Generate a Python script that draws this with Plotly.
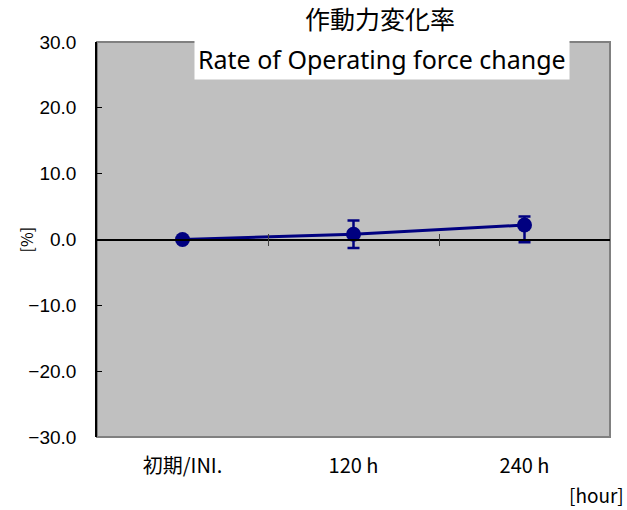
import plotly.graph_objects as go

categories = ["初期/INI.", "120 h", "240 h"]
rate = [0.0, 0.8, 2.2]
err_plus = [0.0, 2.1, 1.3]
err_minus = [0.0, 2.1, 2.6]
y_ticks = [-30, -20, -10, 0, 10, 20, 30]

navy = "#000080"
jp = "Noto Sans CJK JP"
latin = "Liberation Sans"

fig = go.Figure()

fig.add_trace(go.Scatter(
    x=[0, 1, 2], y=rate, mode="lines+markers",
    line=dict(color=navy, width=3),
    marker=dict(color=navy, size=15),
    error_y=dict(type="data", symmetric=False, array=err_plus, arrayminus=err_minus,
                 color=navy, thickness=2.5, width=6),
    showlegend=False,
))

fig.update_layout(
    width=627, height=510,
    margin=dict(l=97, r=17, t=42, b=73),
    paper_bgcolor="white",
    plot_bgcolor="#C0C0C0",
    font=dict(family=latin, color="black", size=19),
    xaxis=dict(
        range=[-0.5, 2.5], tickvals=[0, 1, 2], ticktext=categories,
        showgrid=False, zeroline=False, showline=False, ticks="",
        tickfont=dict(family=jp, size=20), ticklabelstandoff=15,
    ),
    xaxis2=dict(
        overlaying="x", anchor="free", position=0.5, range=[-0.5, 2.5],
        tickvals=[0.5, 1.5], ticks="outside", ticklen=6, tickwidth=1, tickcolor="#404040",
        showticklabels=False, showgrid=False, zeroline=False,
        showline=True, linecolor="black", linewidth=1.5,
    ),
    xaxis3=dict(
        overlaying="x", anchor="free", position=0.5, range=[-0.5, 2.5],
        tickvals=[0.5, 1.5], ticks="inside", ticklen=6, tickwidth=1, tickcolor="#404040",
        showticklabels=False, showgrid=False, zeroline=False, showline=False,
    ),
    yaxis=dict(
        range=[-30, 30], tickvals=y_ticks, tickformat=".1f",
        showgrid=False, zeroline=False,
        showline=True, linecolor="black", linewidth=1.5,
        ticks="inside", ticklen=5, tickcolor="black", ticklabelstandoff=15,
        tickfont=dict(family=latin, size=19),
    ),
    shapes=[dict(
        type="rect", xref="paper", yref="paper", x0=0, x1=1, y0=0, y1=1,
        line=dict(color="#808080", width=2), layer="below",
    )],
    annotations=[
        dict(text="作動力変化率", xref="paper", yref="paper", x=(380 - 97) / 513, y=1.0,
             yshift=24, xanchor="center", yanchor="middle", showarrow=False,
             font=dict(family=jp, size=25)),
        dict(text="Rate of Operating force change", xref="paper", yref="paper",
             x=(382 - 97) / 513, y=1.0, yshift=-17, xanchor="center", yanchor="middle",
             showarrow=False, bgcolor="white", borderpad=3,
             font=dict(family="Noto Sans", size=25)),
        dict(text="[%]", xref="paper", yref="paper", x=0, xshift=-72, y=0.5,
             xanchor="center", yanchor="middle", textangle=-90, showarrow=False,
             font=dict(family=jp, size=16)),
        dict(text="[hour]", xref="paper", yref="paper", x=1, xshift=16, y=0, yshift=-57,
             xanchor="right", yanchor="middle", showarrow=False,
             font=dict(family=jp, size=19)),
    ],
)

fig.add_trace(go.Scatter(x=[], y=[], xaxis="x2", showlegend=False))
fig.add_trace(go.Scatter(x=[], y=[], xaxis="x3", showlegend=False))

fig.write_html("out.html", config={"displayModeBar": False},
               post_script="document.body.style.margin='0';")
